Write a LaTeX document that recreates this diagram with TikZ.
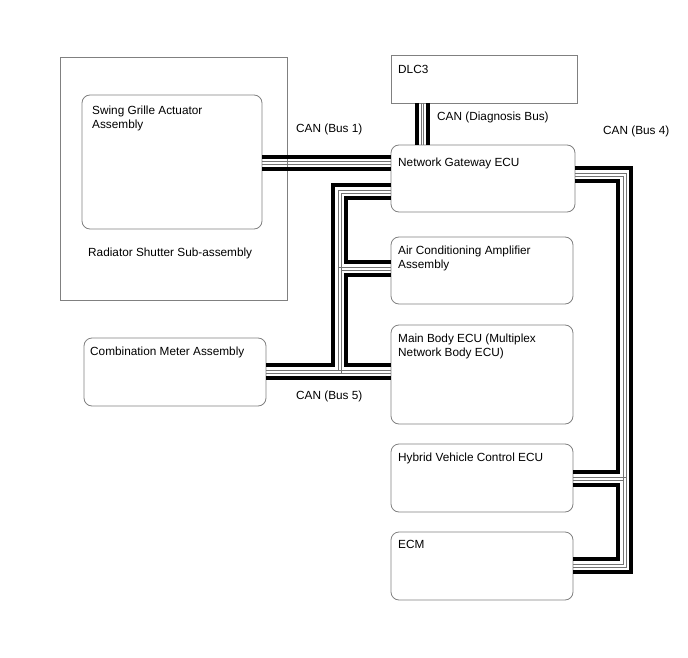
\documentclass[tikz,border=0pt]{standalone}
\usepackage{fontspec}
\setmainfont{Liberation Sans}

\begin{document}
\begin{tikzpicture}[
  x=1pt, y=-1pt,
  ecu/.style={draw=black!50, line width=0.8pt, rounded corners=8pt, anchor=north west, inner sep=0pt, outer sep=0pt},
  frame/.style={ecu, sharp corners},
  txt/.style={font=\fontsize{11.8}{14.5}\selectfont, align=left, inner sep=0pt, anchor=north west},
  lbl/.style={txt, xshift=7pt, yshift=-8.5pt},
  bus/.style={line width=3.5pt, black},
  wire/.style={line width=0.9pt, black!55}
]
\useasboundingbox (0,0) rectangle (688,658);

% Boxes
\node[frame, minimum width=227pt, minimum height=243pt] (rs) at (60,57) {};
\node[ecu, minimum width=180pt, minimum height=134pt,
  label={[lbl, xshift=3pt, yshift=-2pt]north west:Swing Grille Actuator\\Assembly}] (sga) at (82,95) {};
\node[frame, minimum width=186pt, minimum height=48pt,
  label={[lbl, yshift=-2pt]north west:DLC3}] (dlc) at (391,55) {};
\node[ecu, minimum width=184pt, minimum height=67pt,
  label={[lbl, yshift=-4pt]north west:Network Gateway ECU}] (gw) at (391,145) {};
\node[ecu, minimum width=182pt, minimum height=67pt,
  label={[lbl]north west:Air Conditioning Amplifier\\Assembly}] (ac) at (391,237) {};
\node[ecu, minimum width=182pt, minimum height=99pt,
  label={[lbl]north west:Main Body ECU (Multiplex\\Network Body ECU)}] (mb) at (391,325) {};
\node[ecu, minimum width=182pt, minimum height=68pt,
  label={[lbl, xshift=-1pt]north west:Combination Meter Assembly}] (cmb) at (84,338) {};
\node[ecu, minimum width=182pt, minimum height=68pt,
  label={[lbl]north west:Hybrid Vehicle Control ECU}] (hv) at (391,444) {};
\node[ecu, minimum width=182pt, minimum height=68pt,
  label={[lbl]north west:ECM}] (ecm) at (391,532) {};

% Texts
\node[txt] (rst) at (88,247.5) {Radiator Shutter Sub-assembly};
\node[txt] (can1) at (296,123.5) {CAN (Bus 1)};
\node[txt] (cand) at (437,111.5) {CAN (Diagnosis Bus)};
\node[txt] (can4) at (603,125.5) {CAN (Bus 4)};
\node[txt] (can5) at (296,390.5) {CAN (Bus 5)};

% CAN (Bus 1)
\draw[bus] (sga.east |- 0,157) -- (gw.west |- 0,157);
\draw[wire] (sga.east |- 0,161.75) -- (gw.west |- 0,161.75);
\draw[wire] (sga.east |- 0,164.25) -- (gw.west |- 0,164.25);
\draw[bus] (sga.east |- 0,169) -- (gw.west |- 0,169);

% CAN (Diagnosis Bus)
\draw[bus] (dlc.south -| 417,0) -- (gw.north -| 417,0);
\draw[wire] (dlc.south -| 421.25,0) -- (gw.north -| 421.25,0);
\draw[wire] (dlc.south -| 423.75,0) -- (gw.north -| 423.75,0);
\draw[bus] (dlc.south -| 428,0) -- (gw.north -| 428,0);

% CAN (Bus 4)
\draw[bus] (gw.east |- 0,168) -| (631,572) -- (ecm.east |- 0,572);
\draw[wire] (gw.east |- 0,173) -| (626,567) -- (ecm.east |- 0,567);
\draw[wire] (gw.east |- 0,176) -| (623,564) -- (ecm.east |- 0,564);
\draw[bus] (gw.east |- 0,181) -| (618,472) -- (hv.east |- 0,472);
\draw[wire] (hv.east |- 0,477) -- (626,477);
\draw[wire] (hv.east |- 0,480) -- (623,480);
\draw[bus] (hv.east |- 0,485) -| (618,559) -- (ecm.east |- 0,559);

% CAN (Bus 5)
\draw[bus] (gw.west |- 0,185) -| (333,365) -- (cmb.east |- 0,365);
\draw[wire] (gw.west |- 0,190) -| (338,370);
\draw[wire] (gw.west |- 0,193) -| (341,373);
\draw[bus] (gw.west |- 0,198) -| (346,262) -- (ac.west |- 0,262);
\draw[wire] (338,267) -- (ac.west |- 0,267);
\draw[wire] (341,270) -- (ac.west |- 0,270);
\draw[bus] (ac.west |- 0,275) -| (346,365) -- (mb.west |- 0,365);
\draw[wire] (cmb.east |- 0,370) -- (mb.west |- 0,370);
\draw[wire] (cmb.east |- 0,373) -- (mb.west |- 0,373);
\draw[bus] (cmb.east |- 0,378) -- (mb.west |- 0,378);
\end{tikzpicture}
\end{document}
